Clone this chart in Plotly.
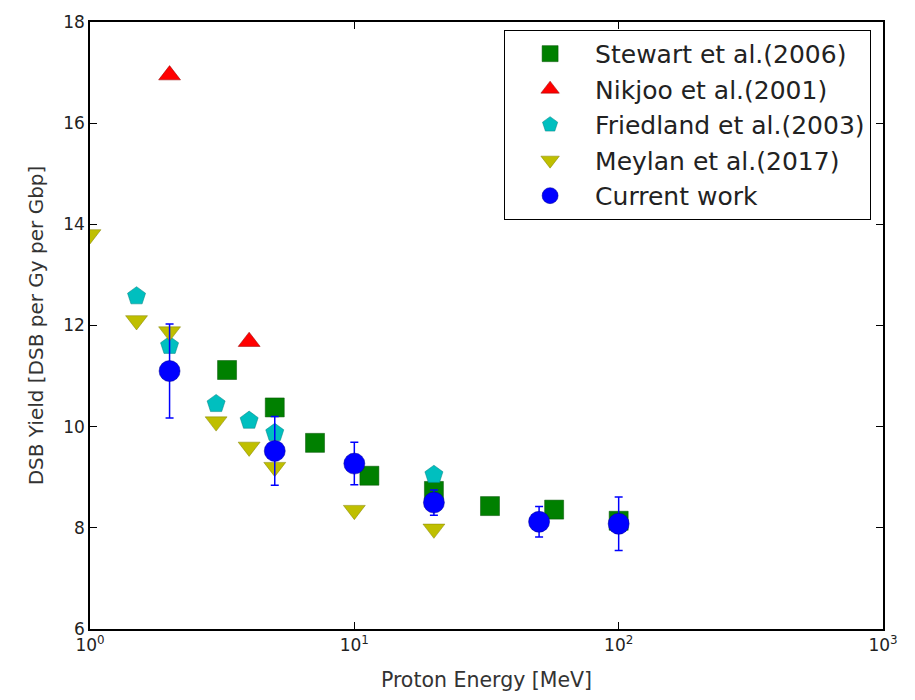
import plotly.graph_objects as go

# ---- data ----
stewart_x = [3.3, 5.0, 7.1, 11.4, 20.0, 32.6, 57.0, 100.0]
stewart_y = [11.12, 10.38, 9.68, 9.03, 8.73, 8.43, 8.36, 8.14]

nikjoo_x = [2.0, 4.0]
nikjoo_y = [16.95, 11.68]

friedland_x = [1.5, 2.0, 3.0, 4.0, 5.0, 20.0]
friedland_y = [12.58, 11.6, 10.45, 10.12, 9.88, 9.05]

meylan_x = [1.0, 1.5, 2.0, 3.0, 4.0, 5.0, 10.0, 20.0]
meylan_y = [13.8, 12.1, 11.88, 10.1, 9.6, 9.2, 8.35, 7.98]

current_x = [2.0, 5.0, 10.0, 20.0, 50.0, 100.0]
current_y = [11.1, 9.52, 9.27, 8.5, 8.12, 8.08]
current_err = [0.93, 0.68, 0.42, 0.25, 0.3, 0.53]

x_tickvals = [1, 10, 100, 1000]
x_ticktext = ["10<sup>0</sup>", "10<sup>1</sup>", "10<sup>2</sup>", "10<sup>3</sup>"]
y_tickvals = [6, 8, 10, 12, 14, 16, 18]

series_names = ["Stewart et al.(2006)", "Nikjoo et al.(2001)",
                "Friedland et al.(2003)", "Meylan et al.(2017)", "Current work"]

fig = go.Figure()

fig.add_trace(go.Scatter(
    x=stewart_x, y=stewart_y, mode="markers", name=series_names[0],
    legendgroup="a",
    marker=dict(symbol="square", size=19, color="#008000",
                line=dict(color="#005000", width=0.5))))
fig.add_trace(go.Scatter(
    x=nikjoo_x, y=nikjoo_y, mode="markers", name=series_names[1],
    legendgroup="b",
    marker=dict(symbol="triangle-up", size=19, color="#FF0000",
                line=dict(color="#900000", width=0.5))))
fig.add_trace(go.Scatter(
    x=friedland_x, y=friedland_y, mode="markers", name=series_names[2],
    legendgroup="c",
    marker=dict(symbol="pentagon", size=19, color="#00BFBF",
                line=dict(color="#008080", width=0.5))))
fig.add_trace(go.Scatter(
    x=meylan_x, y=meylan_y, mode="markers", name=series_names[3],
    legendgroup="d",
    marker=dict(symbol="triangle-down", size=19, color="#BFBF00",
                line=dict(color="#808000", width=0.5))))
fig.add_trace(go.Scatter(
    x=current_x, y=current_y, mode="markers", name=series_names[4],
    legendgroup="e",
    error_y=dict(type="data", array=current_err, visible=True,
                 color="#0000FF", thickness=1.5, width=4),
    marker=dict(symbol="circle", size=21, color="#0000FF",
                line=dict(color="#000090", width=0.5))))

axis_common = dict(
    showline=True, linecolor="black", linewidth=1.5, mirror="allticks",
    ticks="inside", ticklen=7, tickcolor="black", showgrid=False,
    zeroline=False,
    tickfont=dict(family="DejaVu Sans", size=17, color="#222222"),
)

fig.update_xaxes(
    type="log", range=[0, 3], tickvals=x_tickvals, ticktext=x_ticktext,
    title=dict(text="Proton Energy [MeV]",
               font=dict(family="DejaVu Sans", size=20.5, color="#333333"),
               standoff=18),
    **axis_common)
fig.update_yaxes(
    range=[6, 18], tickvals=y_tickvals,
    title=dict(text="DSB Yield [DSB per Gy per Gbp]",
               font=dict(family="DejaVu Sans", size=20, color="#333333"),
               standoff=14),
    **axis_common)

fig.update_layout(
    width=915, height=700,
    margin=dict(l=90, r=32, t=17, b=68),
    paper_bgcolor="white", plot_bgcolor="white",
    legend=dict(
        x=0.985, y=0.987, xanchor="right", yanchor="top",
        bgcolor="white", bordercolor="black", borderwidth=1,
        font=dict(family="DejaVu Sans", size=25, color="#222222"),
        tracegroupgap=0, itemwidth=80,
    ),
    showlegend=True,
)

fig.write_html("out.html")
